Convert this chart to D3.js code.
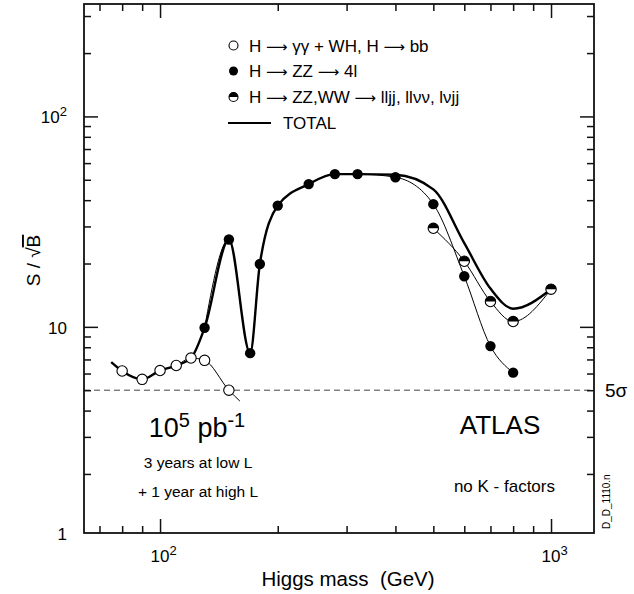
<!DOCTYPE html>
<html>
<head>
<meta charset="utf-8">
<script src="https://cdn.jsdelivr.net/npm/d3@7"></script>
<style>
  html, body { margin: 0; padding: 0; background: #fff; }
  svg { display: block; font-family: "Liberation Sans", Arial, Helvetica, sans-serif; }
</style>
</head>
<body>
<svg id="chart" width="634" height="594"></svg>
<script>
// H -> gamma gamma + WH, H -> bb (open circles)
const massGG = [80, 90, 100, 110, 120, 130, 150];
const sigGG  = [6.17, 5.63, 6.2, 6.55, 7.11, 6.93, 5.0];
// curve of the gamma-gamma channel, running a little past the last point
const curveGGMass = [80, 90, 100, 110, 120, 130, 150, 160];
const curveGGSig  = [6.17, 5.63, 6.2, 6.55, 7.11, 6.93, 5.0, 4.44];

// H -> ZZ -> 4l (filled circles)
const mass4l = [130, 150, 170, 180, 200, 240, 280, 320, 400, 500, 600, 700, 800];
const sig4l  = [9.9, 26.0, 7.5, 19.9, 37.7, 47.7, 53.2, 53.2, 51.4, 38.3, 17.4, 8.1, 6.06];

// H -> ZZ,WW -> lljj, llnunu, lnujj (half-filled circles)
const massLL = [500, 600, 700, 800, 1000];
const sigLL  = [29.4, 20.5, 13.2, 10.6, 15.1];

// combined significance (thick curve)
const massTot = [75, 80, 90, 100, 110, 120, 130, 150, 170, 180, 200, 240, 280, 320, 400, 500, 600, 700, 800, 1000];
const sigTot  = [6.8, 6.17, 5.63, 6.2, 6.55, 7.11, 9.9, 26.0, 7.5, 19.9, 37.7, 47.7, 53.2, 53.2, 52.8, 45, 25, 15.2, 12.2, 15.1];

// 5 sigma discovery line
const fiveSigma = 5;

// axis ticks
const xMajor = [100, 1000];
const xMinor = [70, 80, 90, 200, 300, 400, 500, 600, 700, 800, 900];
const yMajor = [10, 100];
const yMinor = [2, 3, 4, 5, 6, 7, 8, 9, 20, 30, 40, 50, 60, 70, 80, 90, 200, 300];
const xTickLabels = [{v: 100, base: "10", exp: "2"}, {v: 1000, base: "10", exp: "3"}];
const yTickLabels = [{v: 1, base: "1", exp: ""}, {v: 10, base: "10", exp: ""}, {v: 100, base: "10", exp: "2"}];

const svg = d3.select("#chart");
const L = 84, R = 594, T = 4, B = 533;

const x = d3.scaleLog().domain([63.9, 1288]).range([L, R]);
const y = d3.scaleLog().domain([1.048, 342.2]).range([B, T]);

const zip = (xs, ys) => xs.map((v, i) => [v, ys[i]]);

// dashed 5 sigma line
svg.append("line")
  .attr("x1", L).attr("x2", R)
  .attr("y1", y(fiveSigma)).attr("y2", y(fiveSigma))
  .attr("stroke", "#444").attr("stroke-width", 1)
  .attr("stroke-dasharray", "6,4");

// tick marks on all four sides, pointing inwards
function tickGroup(axis, scale, values, size, tx, ty) {
  svg.append("g")
    .attr("transform", `translate(${tx},${ty})`)
    .call(axis(scale).tickValues(values).tickSize(size).tickFormat(""))
    .call(g => g.select(".domain").remove())
    .call(g => g.selectAll("line").attr("stroke", "#111").attr("stroke-width", 1.5));
}
tickGroup(d3.axisBottom, x, xMajor, -14, 0, B);
tickGroup(d3.axisBottom, x, xMinor, -7, 0, B);
tickGroup(d3.axisTop, x, xMajor, -14, 0, T);
tickGroup(d3.axisTop, x, xMinor, -7, 0, T);
tickGroup(d3.axisLeft, y, yMajor, -14, L, 0);
tickGroup(d3.axisLeft, y, yMinor, -7, L, 0);
tickGroup(d3.axisRight, y, yMajor, -14, R, 0);
tickGroup(d3.axisRight, y, yMinor, -7, R, 0);

// frame
svg.append("rect")
  .attr("x", L).attr("y", T).attr("width", R - L).attr("height", B - T)
  .attr("fill", "none").attr("stroke", "#111").attr("stroke-width", 1.8);

// curves
const line = d3.line()
  .x(d => x(d[0])).y(d => y(d[1]))
  .curve(d3.curveMonotoneX);

const curves = [
  {pts: zip(curveGGMass, curveGGSig), w: 1},
  {pts: zip(mass4l, sig4l), w: 1},
  {pts: zip(massLL, sigLL), w: 1},
  {pts: zip(massTot, sigTot), w: 2.4}
];
svg.append("g").selectAll("path").data(curves).join("path")
  .attr("d", d => line(d.pts))
  .attr("fill", "none").attr("stroke", "#000")
  .attr("stroke-width", d => d.w)
  .attr("stroke-linejoin", "round");

// markers
const R_PT = 5.2;
function halfMarker(g, cx, cy, r) {
  g.append("circle").attr("cx", cx).attr("cy", cy).attr("r", r)
    .attr("fill", "#fff").attr("stroke", "#000").attr("stroke-width", 1.1);
  g.append("path")
    .attr("d", `M${cx - r},${cy} A${r},${r} 0 0 1 ${cx + r},${cy} Z`)
    .attr("fill", "#000");
}

svg.append("g").selectAll("circle").data(zip(massGG, sigGG)).join("circle")
  .attr("cx", d => x(d[0])).attr("cy", d => y(d[1])).attr("r", R_PT)
  .attr("fill", "#fff").attr("stroke", "#000").attr("stroke-width", 1.1);

svg.append("g").selectAll("circle").data(zip(mass4l, sig4l)).join("circle")
  .attr("cx", d => x(d[0])).attr("cy", d => y(d[1])).attr("r", R_PT)
  .attr("fill", "#000");

const gLL = svg.append("g");
zip(massLL, sigLL).forEach(d => halfMarker(gLL, x(d[0]), y(d[1]), R_PT));

// tick labels
const FONT = 17;
xTickLabels.forEach(t => {
  const tx = svg.append("text")
    .attr("x", x(t.v) - 9.5).attr("y", B + 29)
    .attr("font-size", FONT).attr("fill", "#000");
  tx.append("tspan").text(t.base);
  if (t.exp) tx.append("tspan").attr("dy", -7).attr("font-size", 13).text(t.exp);
});
yTickLabels.forEach(t => {
  const tx = svg.append("text")
    .attr("x", 67).attr("y", Math.min(y(t.v), B) + 7)
    .attr("text-anchor", "end")
    .attr("font-size", FONT).attr("fill", "#000");
  tx.append("tspan").text(t.base);
  if (t.exp) tx.append("tspan").attr("dy", -7).attr("font-size", 13).text(t.exp);
});

// axis titles
svg.append("text")
  .attr("x", 348).attr("y", 586)
  .attr("text-anchor", "middle").attr("font-size", 20.5)
  .text("Higgs mass\u00a0\u00a0(GeV)");

const yt = svg.append("text")
  .attr("transform", `translate(40,${(T + B) / 2 - 8}) rotate(-90)`)
  .attr("text-anchor", "middle").attr("font-size", 19);
yt.append("tspan").text("S / \u221A");
yt.append("tspan").style("text-decoration", "overline").text("B");

// legend; labels are split into pieces so the long arrows can use a font that has them
const ARROW = "\u27F6";
const legend = svg.append("g").attr("font-size", 17);
const legRows = [
  {type: "open", parts: ["H ", ARROW, " \u03B3\u03B3 + WH, H ", ARROW, " bb"], yy: 45.5},
  {type: "filled", parts: ["H ", ARROW, " ZZ ", ARROW, " 4l"], yy: 71},
  {type: "half", parts: ["H ", ARROW, " ZZ,WW ", ARROW, " lljj, ll\u03BD\u03BD, l\u03BDjj"], yy: 97},
  {type: "line", parts: ["TOTAL"], yy: 123}
];
legRows.forEach(r => {
  if (r.type === "open") {
    legend.append("circle").attr("cx", 233.5).attr("cy", r.yy).attr("r", 4.5)
      .attr("fill", "#fff").attr("stroke", "#000").attr("stroke-width", 1.1);
  } else if (r.type === "filled") {
    legend.append("circle").attr("cx", 233.5).attr("cy", r.yy).attr("r", 4.5).attr("fill", "#000");
  } else if (r.type === "half") {
    halfMarker(legend, 233.5, r.yy, 4.5);
  } else {
    legend.append("line").attr("x1", 228).attr("x2", 271)
      .attr("y1", r.yy).attr("y2", r.yy).attr("stroke", "#000").attr("stroke-width", 2);
  }
  const t = legend.append("text")
    .attr("x", r.type === "line" ? 283 : 249).attr("y", r.yy + 6)
    .attr("xml:space", "preserve");
  r.parts.forEach(p => {
    const s = t.append("tspan").text(p);
    if (p === ARROW) s.attr("font-family", "DejaVu Sans").attr("font-size", 15);
  });
});

// annotations
const lumi = svg.append("text").attr("x", 197).attr("y", 437)
  .attr("text-anchor", "middle").attr("font-size", 27);
lumi.append("tspan").text("10");
lumi.append("tspan").attr("dy", -10).attr("font-size", 20).text("5");
lumi.append("tspan").attr("dy", 10).text(" pb");
lumi.append("tspan").attr("dy", -10).attr("font-size", 20).text("-1");

svg.append("text").attr("x", 198).attr("y", 468).attr("text-anchor", "middle")
  .attr("font-size", 15.5).text("3 years at low L");
svg.append("text").attr("x", 198).attr("y", 497).attr("text-anchor", "middle")
  .attr("font-size", 15.5).text("+ 1 year at high L");

svg.append("text").attr("x", 500).attr("y", 434).attr("text-anchor", "middle")
  .attr("font-size", 26).text("ATLAS");
svg.append("text").attr("x", 555).attr("y", 492).attr("text-anchor", "end")
  .attr("font-size", 17).text("no K - factors");

svg.append("text").attr("x", 605).attr("y", y(fiveSigma) + 7)
  .attr("font-size", 19).text("5\u03C3");

svg.append("text")
  .attr("transform", "translate(610,529) rotate(-90)")
  .attr("font-size", 10).text("D_D_1110.n");
</script>
</body>
</html>
